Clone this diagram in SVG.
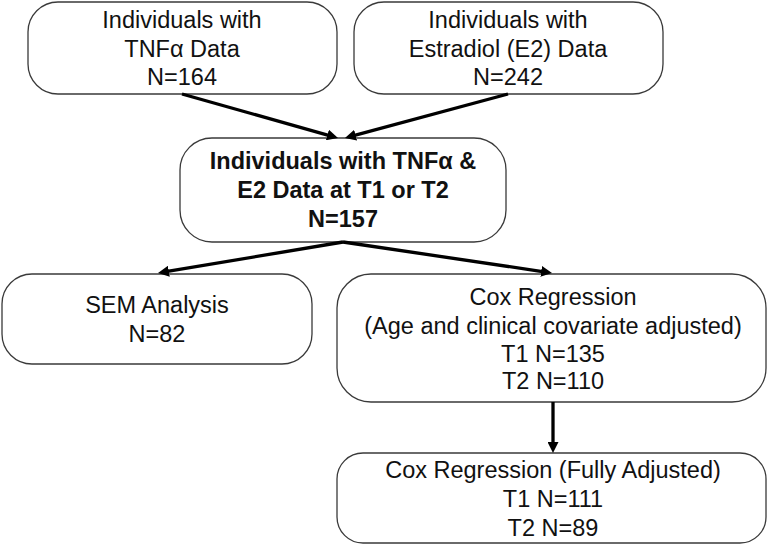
<svg xmlns="http://www.w3.org/2000/svg" width="771" height="545" viewBox="0 0 771 545">
  <style>
    .box { fill: #ffffff; stroke: #3a3a3a; stroke-width: 1.3; }
    .t { font-family: "Liberation Sans", Arial, sans-serif; font-size: 23.5px; fill: #111111; text-anchor: middle; }
    .b { font-weight: bold; }
    .conn { stroke: #000000; stroke-width: 3.3; fill: none; marker-end: url(#ah); }
  </style>
  <defs>
    <marker id="ah" markerUnits="userSpaceOnUse" markerWidth="12" markerHeight="11" refX="3" refY="5.5" orient="auto" viewBox="0 0 12 11">
      <path d="M0,0 L11,5.5 L0,11 z" fill="#000000"/>
    </marker>
  </defs>
  <rect width="771" height="545" fill="#ffffff"/>

  <g id="tnf-data">
    <rect class="box" x="28" y="2" width="309" height="92" rx="30" ry="30"/>
    <text class="t" x="182" y="28">Individuals with</text>
    <text class="t" x="182" y="57">TNFα Data</text>
    <text class="t" x="182" y="85">N=164</text>
  </g>

  <g id="e2-data">
    <rect class="box" x="354" y="2" width="309" height="92" rx="30" ry="30"/>
    <text class="t" x="508" y="28">Individuals with</text>
    <text class="t" x="508" y="57">Estradiol (E2) Data</text>
    <text class="t" x="508" y="85">N=242</text>
  </g>

  <g id="combined">
    <rect class="box" x="180" y="138" width="326" height="104" rx="32" ry="32"/>
    <text class="t b" x="343" y="169">Individuals with TNFα &amp;</text>
    <text class="t b" x="343" y="198">E2 Data at T1 or T2</text>
    <text class="t b" x="343" y="227">N=157</text>
  </g>

  <g id="sem">
    <rect class="box" x="2" y="274" width="310" height="90" rx="30" ry="30"/>
    <text class="t" x="157" y="313">SEM Analysis</text>
    <text class="t" x="157" y="342">N=82</text>
  </g>

  <g id="cox-age">
    <rect class="box" x="337" y="274" width="429" height="128" rx="34" ry="34"/>
    <text class="t" x="553" y="305">Cox Regression</text>
    <text class="t" x="553" y="334">(Age and clinical covariate adjusted)</text>
    <text class="t" x="553" y="362">T1 N=135</text>
    <text class="t" x="553" y="389">T2 N=110</text>
  </g>

  <g id="cox-full">
    <rect class="box" x="337" y="453" width="429" height="90" rx="26" ry="26"/>
    <text class="t" x="553" y="478">Cox Regression (Fully Adjusted)</text>
    <text class="t" x="553" y="507">T1 N=111</text>
    <text class="t" x="553" y="536">T2 N=89</text>
  </g>

  <g id="connectors">
    <line class="conn" x1="182" y1="94" x2="330.3" y2="135.8"/>
    <line class="conn" x1="508" y1="94" x2="352.7" y2="135.9"/>
    <line class="conn" x1="343" y1="242" x2="165.9" y2="271.7"/>
    <line class="conn" x1="343" y1="242" x2="544.1" y2="271.8"/>
    <line class="conn" x1="553" y1="402" x2="553" y2="445"/>
  </g>
</svg>
